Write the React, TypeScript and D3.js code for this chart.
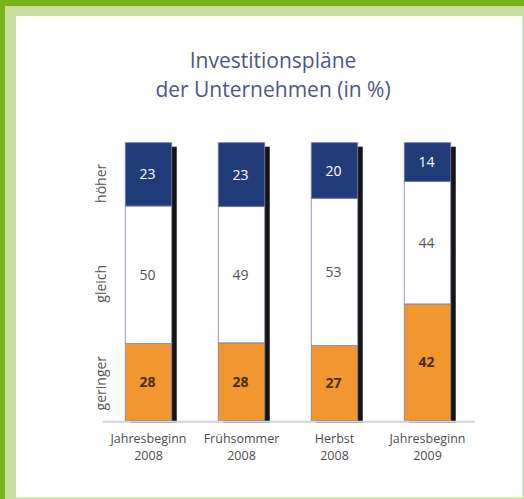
import React from 'react';
import * as d3 from 'd3';

// ── Data ───────────────────────────────────────────────────────────────
const categories = ['Jahresbeginn\n2008', 'Frühsommer\n2008', 'Herbst\n2008', 'Jahresbeginn\n2009'];
const seriesKeys = ['geringer', 'gleich', 'höher'];
const geringer = [28, 28, 27, 42];
const gleich = [50, 49, 53, 44];
const hoeher = [23, 23, 20, 14];
const titleLines = ['Investitionspläne', 'der Unternehmen (in %)'];

const colors: Record<string, string> = {
  geringer: '#f0982f',
  gleich: '#ffffff',
  'höher': '#223c7a',
};
const textColors: Record<string, string> = {
  geringer: '#4a2e0c',
  gleich: '#555555',
  'höher': '#ffffff',
};

const W = 524;
const H = 499;
const FONT = "'Open Sans', 'DejaVu Sans', sans-serif";

export default function App() {
  const rows = categories.map((c, i) => ({
    cat: c,
    geringer: geringer[i],
    gleich: gleich[i],
    'höher': hoeher[i],
  }));

  const stacked = d3
    .stack<any>()
    .keys(seriesKeys)
    .offset(d3.stackOffsetExpand)(rows);

  const x = d3
    .scaleBand()
    .domain(categories)
    .range([102, 474])
    .paddingInner(0.5)
    .paddingOuter(0.25);

  const y = d3.scaleLinear().domain([0, 1]).range([420.7, 142.7]);
  const bw = x.bandwidth();

  // left side labels follow the first bar's segments
  const sideLabels = stacked.map((s) => ({
    key: s.key,
    y: y((s[0][0] + s[0][1]) / 2) + (s.key === 'geringer' ? 1 : 9),
  }));

  return (
    <svg
      width={W}
      height={H}
      style={{ position: 'absolute', left: 0, top: 0, display: 'block' }}
    >
      {/* ── Frame ───────────────────────────────────────────── */}
      <rect x={0} y={0} width={W} height={H} fill="#c8dd9e" />
      <rect x={0} y={0} width={W} height={6} fill="#78b31c" />
      <rect x={0} y={0} width={5} height={H} fill="#78b31c" />
      <rect x={16} y={16} width={506.5} height={481.5} fill="#ffffff" />

      {/* ── Title ───────────────────────────────────────────── */}
      <text
        x={273}
        textAnchor="middle"
        fontFamily={FONT}
        fontSize={21}
        fill="#4d5883"
      >
        {titleLines.map((t, i) => (
          <tspan key={i} x={273} y={68 + i * 29}>
            {t}
          </tspan>
        ))}
      </text>

      {/* ── Shadows ─────────────────────────────────────────── */}
      {categories.map((c) => (
        <rect
          key={'sh' + c}
          x={(x(c) as number) + 5}
          y={y(1) + 4}
          width={bw}
          height={y(0) - y(1) - 2}
          fill="#141414"
        />
      ))}

      {/* ── Bars ────────────────────────────────────────────── */}
      {stacked.map((s) =>
        s.map((d, i) => (
          <rect
            key={s.key + i}
            x={x(categories[i]) as number}
            y={y(d[1])}
            width={bw}
            height={y(d[0]) - y(d[1])}
            fill={colors[s.key]}
            stroke="#7d81a8"
            strokeWidth={0.8}
          />
        )),
      )}

      {/* ── Value labels ────────────────────────────────────── */}
      {stacked.map((s) =>
        s.map((d, i) => (
          <text
            key={'v' + s.key + i}
            x={(x(categories[i]) as number) + bw / 2 - 1}
            y={y((d[0] + d[1]) / 2)}
            dy="0.36em"
            textAnchor="middle"
            fontFamily={FONT}
            fontSize={14}
            fontWeight={s.key === 'geringer' ? 700 : 400}
            fill={textColors[s.key]}
          >
            {(d.data as any)[s.key]}
          </text>
        )),
      )}

      {/* ── Baseline ────────────────────────────────────────── */}
      <line x1={103} x2={475} y1={421.7} y2={421.7} stroke="#d4d4d4" strokeWidth={2} />

      {/* ── Side labels ─────────────────────────────────────── */}
      {sideLabels.map((l) => (
        <text
          key={'sl' + l.key}
          transform={`translate(106,${l.y}) rotate(-90)`}
          textAnchor="middle"
          fontFamily={FONT}
          fontSize={14}
          fill="#555555"
        >
          {l.key}
        </text>
      ))}

      {/* ── Category labels ─────────────────────────────────── */}
      {categories.map((c) => (
        <text
          key={'c' + c}
          textAnchor="middle"
          fontFamily={FONT}
          fontSize={12.5}
          fill="#4d4d4d"
        >
          {c.split('\n').map((line, j) => (
            <tspan key={j} x={(x(c) as number) + bw / 2} y={443 + j * 17}>
              {line}
            </tspan>
          ))}
        </text>
      ))}
    </svg>
  );
}
